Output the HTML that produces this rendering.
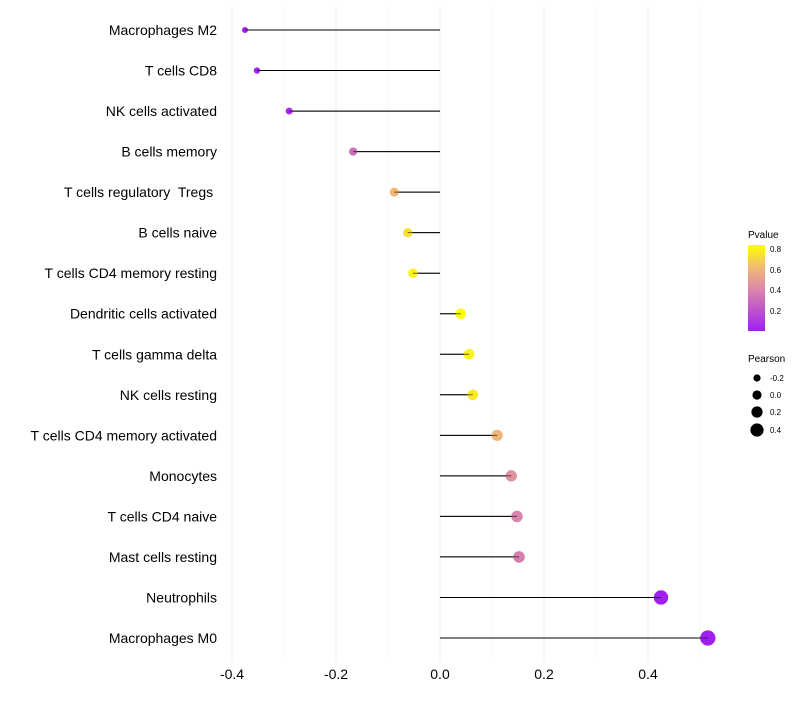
<!DOCTYPE html>
<html><head><meta charset="utf-8"><style>
body{margin:0;background:#fff;font-family:"Liberation Sans",sans-serif}
text{white-space:pre}
</style></head><body>
<svg id="c" width="800" height="700" xmlns="http://www.w3.org/2000/svg">
<defs><linearGradient id="pg" x1="0" y1="1" x2="0" y2="0">
<stop offset="0" stop-color="#a020f0"/><stop offset="0.5" stop-color="#dc8aa8"/><stop offset="0.75" stop-color="#f0bc70"/><stop offset="1" stop-color="#ffff00"/></linearGradient></defs>
<g id="grid"></g>
<g id="marks"></g>
<g id="legend">
<text x="748" y="238" font-size="10">Pvalue</text>
<rect x="748" y="245" width="17" height="86" fill="url(#pg)"/>
<text x="770" y="252" font-size="8">0.8</text>
<text x="770" y="273" font-size="8">0.6</text>
<text x="770" y="293" font-size="8">0.4</text>
<text x="770" y="314" font-size="8">0.2</text>
<text x="748" y="362" font-size="10">Pearson</text>
<circle cx="757" cy="378" r="3.6"/><text x="770" y="381" font-size="8">-0.2</text>
<circle cx="757" cy="395" r="4.6"/><text x="770" y="398" font-size="8">0.0</text>
<circle cx="757" cy="412" r="5.6"/><text x="770" y="415" font-size="8">0.2</text>
<circle cx="757" cy="430" r="6.6"/><text x="770" y="433" font-size="8">0.4</text>
</g>
</svg>
<script>
const categories=["Macrophages M2","T cells CD8","NK cells activated","B cells memory","T cells regulatory  Tregs ","B cells naive","T cells CD4 memory resting","Dendritic cells activated","T cells gamma delta","NK cells resting","T cells CD4 memory activated","Monocytes","T cells CD4 naive","Mast cells resting","Neutrophils","Macrophages M0"];
const pearson=[-0.375,-0.352,-0.290,-0.167,-0.088,-0.062,-0.052,0.040,0.056,0.063,0.110,0.137,0.148,0.152,0.425,0.515];
const pvalues=[0.003,0.01,0.05,0.32,0.62,0.74,0.8,0.84,0.8,0.77,0.6,0.46,0.4,0.38,0.001,0.0005];
const xTicks=[-0.4,-0.2,0.0,0.2,0.4];
const xMinor=[-0.3,-0.1,0.1,0.3,0.5];
const NS="http://www.w3.org/2000/svg";
const x=v=>440+v*520;
const y=i=>30+i*(608/15);
function mk(t,a,p){const e=document.createElementNS(NS,t);for(const k in a)e.setAttribute(k,a[k]);p.appendChild(e);return e;}
function lerp(a,b,t){return a.map((v,i)=>Math.round(v+(b[i]-v)*t));}
const stops=[[0,[160,32,240]],[0.5,[220,138,168]],[0.75,[240,188,112]],[1,[255,255,0]]];
function col(p){let t=Math.max(0,Math.min(1,(p-0.005)/(0.84-0.005)));for(let i=1;i<stops.length;i++){if(t<=stops[i][0]){const c=lerp(stops[i-1][1],stops[i][1],(t-stops[i-1][0])/(stops[i][0]-stops[i-1][0]));return `rgb(${c})`;}}return "rgb(255,255,0)";}
const g=document.getElementById('grid'),m=document.getElementById('marks'),svg=document.getElementById('c');
xMinor.forEach(v=>{const l=mk('line',{x1:x(v),x2:x(v),y1:5,y2:660,stroke:'#f5f5f5','stroke-width':0.6},g);

});
xTicks.forEach(v=>{const l=mk('line',{x1:x(v),x2:x(v),y1:5,y2:660,stroke:'#efefef','stroke-width':1},g);


const t=mk('text',{x:x(v),y:679,'font-size':14,'text-anchor':'middle',fill:'#000'},svg);t.textContent=v.toFixed(1);

});
categories.forEach((c,i)=>{const yy=y(i);
const t=mk('text',{x:217,y:yy+5,'font-size':14,'text-anchor':'end',fill:'#000'},svg);t.textContent=c;


const l=mk('line',{x1:x(0),x2:x(pearson[i]),y1:yy,y2:yy,stroke:'#000','stroke-width':1},m);


const r=Math.max(1.7,5+5.2*pearson[i]);
const d=mk('circle',{cx:x(pearson[i]),cy:yy,r:r,fill:col(pvalues[i])},m);


const l2=mk('line',{x1:x(0),x2:x(pearson[i]),y1:yy,y2:yy,stroke:'#000','stroke-width':1,'stroke-opacity':0.6},m);

});
</script>
</body></html>
